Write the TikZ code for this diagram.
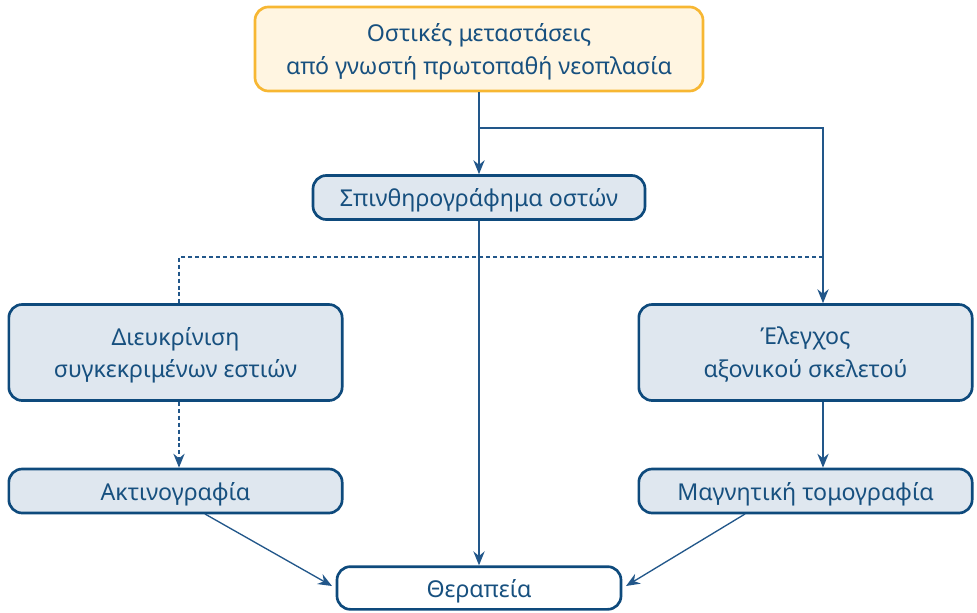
\documentclass[tikz,border=0pt]{standalone}
\usepackage{fontspec}
\setmainfont{Noto Sans}
\usetikzlibrary{arrows.meta,positioning}
\definecolor{boxline}{HTML}{0E4A7C}
\definecolor{boxfill}{HTML}{DFE7EF}
\definecolor{warmline}{HTML}{F7B733}
\definecolor{warmfill}{HTML}{FFF5E1}
\definecolor{linkcol}{HTML}{22578A}
\definecolor{textcol}{HTML}{17507F}
\tikzset{
  flowbox/.style={draw=boxline, line width=2pt, rounded corners=10pt, align=center,
    fill=boxfill, text=textcol, font=\fontsize{17.4}{24.6}\selectfont, inner sep=0pt,
    text depth=-1.6pt},
  warmbox/.style={flowbox, draw=warmline, fill=warmfill},
  plainbox/.style={flowbox, fill=white},
  arr/.style={-{Stealth[length=10.5pt, width=8.5pt, inset=3.5pt]}, line width=1pt, draw=linkcol},
  dasharr/.style={arr, dash pattern=on 3pt off 2.2pt}
}
\begin{document}
\begin{tikzpicture}[x=0.75pt, y=-0.75pt]
  \useasboundingbox (0,0) rectangle (977,613);
  % boxes
  \node[warmbox, minimum width=336pt, minimum height=63pt] (meta) at (479,49) {Οστικές μεταστάσεις\\από γνωστή πρωτοπαθή νεοπλασία};
  \node[flowbox, minimum width=249pt, minimum height=33pt] (scan) at (479,197.5) {Σπινθηρογράφημα οστών};
  \node[flowbox, minimum width=250pt, minimum height=72pt] (focus) at (175.5,352.5) {Διευκρίνιση\\συγκεκριμένων εστιών};
  \node[flowbox, minimum width=250pt, minimum height=72pt] (axial) at (805.5,352.5) {Έλεγχος\\αξονικού σκελετού};
  \node[flowbox, minimum width=250pt, minimum height=33pt] (xray) at (175.5,491) {Ακτινογραφία};
  \node[flowbox, minimum width=250pt, minimum height=33pt] (mri) at (805.5,491) {Μαγνητική τομογραφία};
  \node[plainbox, minimum width=213pt, minimum height=32pt] (treat) at (479,588) {Θεραπεία};
  % junctions
  \coordinate (split) at (479,128);
  \coordinate (corner) at (823,128);
  \coordinate (branch) at (823,257);
  \coordinate (turn) at (179,257);
  % connectors
  \draw[arr] (meta) -- (scan);
  \draw[arr] (split) -- (corner) -- (axial.north -| corner);
  \draw[dasharr, -] (branch) -- (turn) -- (focus.north -| turn);
  \draw[dasharr] (focus.south -| turn) -- (xray.north -| turn);
  \draw[arr] (axial.south -| corner) -- (mri.north -| corner);
  \draw[arr] (scan) -- (treat);
  \draw[arr] (205,514) -- (332,586);
  \draw[arr] (745,514) -- (626,586);
\end{tikzpicture}
\end{document}
